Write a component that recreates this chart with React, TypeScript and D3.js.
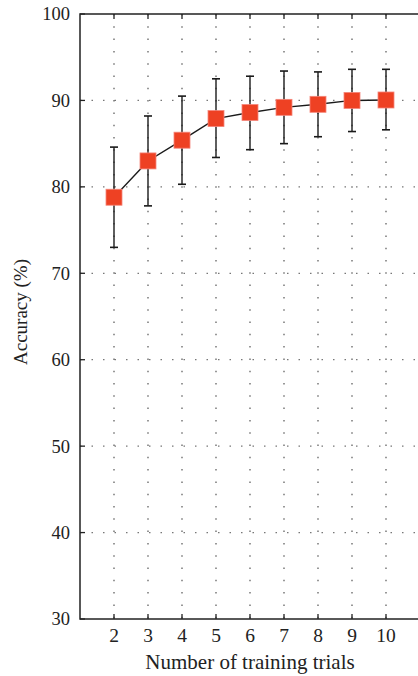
import { useEffect, useRef } from 'react';
import * as d3 from 'd3';

// Accuracy vs number of training trials
const trials = [2, 3, 4, 5, 6, 7, 8, 9, 10];
const meanAcc = [78.8, 83.0, 85.4, 87.9, 88.6, 89.2, 89.55, 90.0, 90.05];
const upperAcc = [84.6, 88.2, 90.5, 92.5, 92.8, 93.4, 93.3, 93.6, 93.6];
const lowerAcc = [73.0, 77.8, 80.3, 83.4, 84.3, 85.0, 85.8, 86.4, 86.6];
const yTicks = [30, 40, 50, 60, 70, 80, 90, 100];

export default function App() {
    const svgRef = useRef<SVGSVGElement>(null);

    useEffect(() => {
        if (!svgRef.current) return;
        const svg = d3.select(svgRef.current);
        svg.selectAll('*').remove();

        const margin = { top: 14, right: -2, bottom: 57, left: 80 };
        const width = 418;
        const height = 676;
        const innerWidth = width - margin.left - margin.right;
        const innerHeight = height - margin.top - margin.bottom;
        const font = '"Liberation Serif", "DejaVu Serif", serif';

        const x = d3.scaleLinear().domain([1, 11]).range([0, innerWidth]);
        const y = d3.scaleLinear().domain([30, 100]).range([innerHeight, 0]);

        const g = svg.append('g')
            .attr('transform', `translate(${margin.left},${margin.top})`);

        // Grid
        g.append('g')
            .selectAll('line')
            .data(yTicks.filter(t => t !== 30 && t !== 100))
            .enter()
            .append('line')
            .attr('x1', 0).attr('x2', innerWidth)
            .attr('y1', d => y(d)).attr('y2', d => y(d))
            .attr('stroke', '#777')
            .attr('stroke-width', 1.2)
            .attr('stroke-dasharray', '1.5,10');

        g.append('g')
            .selectAll('line')
            .data(trials)
            .enter()
            .append('line')
            .attr('x1', d => x(d)).attr('x2', d => x(d))
            .attr('y1', 0).attr('y2', innerHeight)
            .attr('stroke', '#555')
            .attr('stroke-width', 1.2)
            .attr('stroke-dasharray', '1.5,10.8');

        // Frame
        g.append('rect')
            .attr('x', 0).attr('y', 0)
            .attr('width', innerWidth).attr('height', innerHeight)
            .attr('fill', 'none')
            .attr('stroke', '#222')
            .attr('stroke-width', 1.5);

        // Ticks (inward)
        const tickLen = 5;
        g.append('g')
            .selectAll('line')
            .data(trials)
            .enter()
            .append('line')
            .attr('x1', d => x(d)).attr('x2', d => x(d))
            .attr('y1', innerHeight).attr('y2', innerHeight - tickLen)
            .attr('stroke', '#222').attr('stroke-width', 1.3);
        g.append('g')
            .selectAll('line')
            .data(trials)
            .enter()
            .append('line')
            .attr('x1', d => x(d)).attr('x2', d => x(d))
            .attr('y1', 0).attr('y2', tickLen)
            .attr('stroke', '#222').attr('stroke-width', 1.3);
        g.append('g')
            .selectAll('line')
            .data(yTicks)
            .enter()
            .append('line')
            .attr('x1', 0).attr('x2', tickLen)
            .attr('y1', d => y(d)).attr('y2', d => y(d))
            .attr('stroke', '#222').attr('stroke-width', 1.3);

        // Tick labels
        g.append('g')
            .selectAll('text')
            .data(yTicks)
            .enter()
            .append('text')
            .attr('x', -10)
            .attr('y', d => y(d))
            .attr('dy', '0.35em')
            .attr('text-anchor', 'end')
            .attr('font-family', font)
            .attr('font-size', 18.5)
            .attr('fill', '#222')
            .text(d => d);

        g.append('g')
            .selectAll('text')
            .data(trials)
            .enter()
            .append('text')
            .attr('x', d => x(d))
            .attr('y', innerHeight + 23)
            .attr('text-anchor', 'middle')
            .attr('font-family', font)
            .attr('font-size', 19.5)
            .attr('fill', '#222')
            .text(d => d);

        // Axis titles
        svg.append('text')
            .attr('x', 250)
            .attr('y', 669)
            .attr('text-anchor', 'middle')
            .attr('font-family', font)
            .attr('font-size', 21)
            .attr('fill', '#222')
            .text('Number of training trials');

        svg.append('text')
            .attr('transform', `translate(27,312) rotate(-90)`)
            .attr('text-anchor', 'middle')
            .attr('font-family', font)
            .attr('font-size', 19)
            .attr('fill', '#222')
            .text('Accuracy (%)');

        const data = trials.map((t, i) => ({
            t, mean: meanAcc[i], hi: upperAcc[i], lo: lowerAcc[i]
        }));

        // Error bars
        const capW = 4;
        const eb = g.append('g').selectAll('g').data(data).enter().append('g');
        eb.append('line')
            .attr('x1', d => x(d.t)).attr('x2', d => x(d.t))
            .attr('y1', d => y(d.hi)).attr('y2', d => y(d.lo))
            .attr('stroke', '#1a1a1a').attr('stroke-width', 1.4);
        eb.append('line')
            .attr('x1', d => x(d.t) - capW).attr('x2', d => x(d.t) + capW)
            .attr('y1', d => y(d.hi)).attr('y2', d => y(d.hi))
            .attr('stroke', '#1a1a1a').attr('stroke-width', 1.6);
        eb.append('line')
            .attr('x1', d => x(d.t) - capW).attr('x2', d => x(d.t) + capW)
            .attr('y1', d => y(d.lo)).attr('y2', d => y(d.lo))
            .attr('stroke', '#1a1a1a').attr('stroke-width', 1.6);

        // Mean line
        const line = d3.line<{ t: number; mean: number }>()
            .x(d => x(d.t))
            .y(d => y(d.mean));
        g.append('path')
            .datum(data)
            .attr('d', line)
            .attr('fill', 'none')
            .attr('stroke', '#1a1a1a')
            .attr('stroke-width', 1.4);

        // Square markers
        const ms = 16;
        g.selectAll('.marker')
            .data(data)
            .enter()
            .append('rect')
            .attr('class', 'marker')
            .attr('x', d => x(d.t) - ms / 2)
            .attr('y', d => y(d.mean) - ms / 2)
            .attr('width', ms)
            .attr('height', ms)
            .attr('fill', '#ee4123')
            .attr('stroke', '#f4867a')
            .attr('stroke-width', 0.8);
    }, []);

    return (
        <svg
            ref={svgRef}
            width={418}
            height={676}
            style={{ position: 'absolute', left: 0, top: 0, background: '#fff' }}
        />
    );
}
